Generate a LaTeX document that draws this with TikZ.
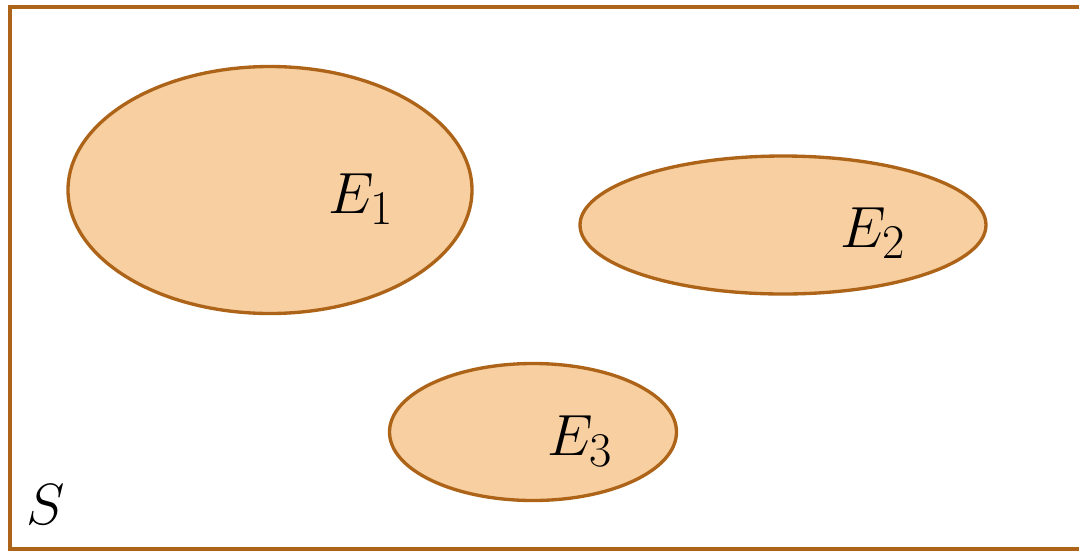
\documentclass[tikz,border=0pt]{standalone}
\usetikzlibrary{shapes.geometric}
\definecolor{rim}{HTML}{AD6419}
\definecolor{peach}{HTML}{F7CFA0}
\tikzset{
  event/.style={ellipse,draw=rim,line width=1.9pt,fill=peach,inner sep=0pt},
  lbl/.style={inner sep=0pt,font=\Huge,scale=1.33,transform shape}
}

\begin{document}
\begin{tikzpicture}[x=0.02cm,y=-0.02cm]
  \useasboundingbox (0,0) rectangle (1079,552);
  \draw[rim,line width=2.2pt] (10,7) rectangle (1110,549);

  \node[event,minimum width=404*0.02cm,minimum height=247*0.02cm] (e1) at (270,190) {};
  \node[event,minimum width=406*0.02cm,minimum height=138*0.02cm] (e2) at (783,225) {};
  \node[event,minimum width=287*0.02cm,minimum height=137*0.02cm] (e3) at (533,432) {};

  \node[lbl] (l1) at (361,199) {$E_1$};
  \node[lbl] (l2) at (873,233) {$E_2$};
  \node[lbl] (l3) at (580,441) {$E_3$};
  \node[lbl] (s) at (46,505) {$S$};
\end{tikzpicture}
\end{document}
